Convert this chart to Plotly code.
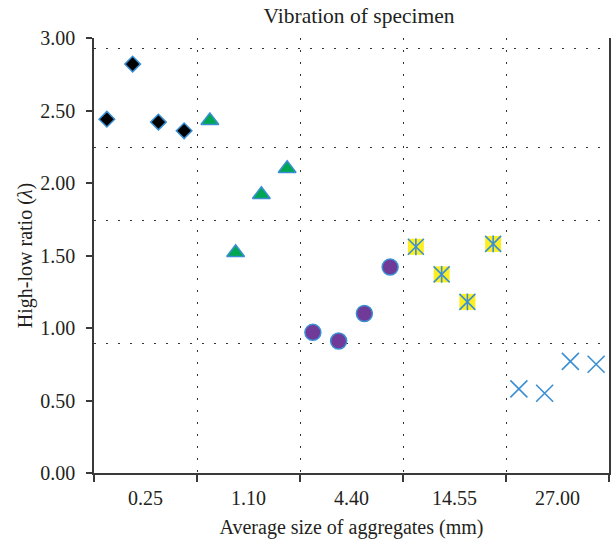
import plotly.graph_objects as go

# Aggregate size classes (mm) along the x axis
categories = ["0.25", "1.10", "4.40", "14.55", "27.00"]

# High-low ratio readings, four specimens per size class
ratio_025 = [2.44, 2.82, 2.42, 2.36]
ratio_110 = [2.43, 1.52, 1.92, 2.10]
ratio_440 = [0.97, 0.91, 1.10, 1.42]
ratio_1455 = [1.56, 1.37, 1.18, 1.58]
ratio_2700 = [0.58, 0.55, 0.77, 0.75]

y_ticks = [0.0, 0.5, 1.0, 1.5, 2.0, 2.5, 3.0]

BLUE = "#3a8fd4"
FONT = "Liberation Serif"
TXT = "#231f20"
AXIS = "#3a3a3a"
GRID_DASH = "1.5px,10.5px"
FS = 20

n_per = 4


def xpos(cat_index, values):
    # spread the specimens of one class evenly across its band
    return [cat_index * n_per + k + 0.5 for k in range(len(values))]


fig = go.Figure()

fig.add_trace(go.Scatter(
    x=xpos(0, ratio_025), y=ratio_025, mode="markers",
    marker=dict(symbol="diamond", size=12, color="black",
                line=dict(color=BLUE, width=1.5))))

fig.add_trace(go.Scatter(
    x=xpos(1, ratio_110), y=ratio_110, mode="markers",
    marker=dict(symbol="triangle-up", size=15.5, color="#00a651",
                line=dict(color=BLUE, width=1.5))))

fig.add_trace(go.Scatter(
    x=xpos(2, ratio_440), y=ratio_440, mode="markers",
    marker=dict(symbol="circle", size=16, color="#6f3a98",
                line=dict(color=BLUE, width=1.5))))

# yellow square with a star (x plus vertical stroke) on top
fig.add_trace(go.Scatter(
    x=xpos(3, ratio_1455), y=ratio_1455, mode="markers",
    marker=dict(symbol="square", size=16, color="#fcee21",
                line=dict(width=0))))
fig.add_trace(go.Scatter(
    x=xpos(3, ratio_1455), y=ratio_1455, mode="markers",
    marker=dict(symbol="x-thin", size=16,
                line=dict(color=BLUE, width=1.6))))
fig.add_trace(go.Scatter(
    x=xpos(3, ratio_1455), y=ratio_1455, mode="markers",
    marker=dict(symbol="line-ns", size=12,
                line=dict(color=BLUE, width=1.6))))

fig.add_trace(go.Scatter(
    x=xpos(4, ratio_2700), y=ratio_2700, mode="markers",
    marker=dict(symbol="x-thin", size=17,
                line=dict(color=BLUE, width=1.6))))

# class label positions (band centres) and band boundaries
n_cat = len(categories)
band_edges = [i * n_per for i in range(n_cat + 1)]
band_centres = [i * n_per + n_per / 2 for i in range(n_cat)]
x_range = [0, n_cat * n_per]

# dotted horizontal guide levels
guide_levels = [0.894, 1.741, 2.248, 2.931]

fig.update_layout(
    width=614, height=539,
    margin=dict(l=94, r=3, t=38, b=66),
    paper_bgcolor="white", plot_bgcolor="white",
    showlegend=False,
    font=dict(family=FONT, color=TXT, size=FS),
    title=dict(text="Vibration of specimen", x=359 / 614, xanchor="center",
               y=1 - 15 / 539, yanchor="middle",
               font=dict(family=FONT, size=21.5, color=TXT)),
    xaxis=dict(
        range=x_range, tickvals=band_edges, ticktext=[""] * len(band_edges),
        ticks="outside", ticklen=7, tickwidth=1.5, tickcolor=AXIS,
        showline=True, linecolor=AXIS, linewidth=1.5,
        showgrid=True, gridcolor="#333333", gridwidth=1.3, griddash=GRID_DASH,
        zeroline=False, fixedrange=True,
    ),
    xaxis2=dict(
        overlaying="x", anchor="y", side="bottom", matches="x",
        range=x_range, tickvals=band_centres, ticktext=categories,
        ticks="outside", ticklen=7, tickcolor="rgba(0,0,0,0)",
        showline=False, showgrid=False, zeroline=False,
        tickfont=dict(family=FONT, size=FS, color=TXT),
        title=dict(text="Average size of aggregates (mm)", standoff=11,
                   font=dict(family=FONT, size=FS, color=TXT)),
    ),
    yaxis=dict(
        range=[0, 3], tickvals=y_ticks, tickformat=".2f",
        ticks="outside", ticklen=6, tickwidth=1.5, tickcolor=AXIS,
        ticklabelstandoff=7,
        showline=True, linecolor=AXIS, linewidth=1.5, mirror=True,
        showgrid=False, zeroline=False,
        tickfont=dict(family=FONT, size=FS, color=TXT),
        title=dict(text="High-low ratio (<i>λ</i>)", standoff=2,
                   font=dict(family=FONT, size=FS, color=TXT)),
    ),
    yaxis2=dict(
        overlaying="y", anchor="x", side="right", range=[0, 3],
        tickvals=guide_levels, showticklabels=False, ticks="",
        showline=False, zeroline=False,
        showgrid=True, gridcolor="#333333", gridwidth=1.3, griddash=GRID_DASH,
    ),
)

# empty trace that activates the secondary label/guide axes
fig.add_trace(go.Scatter(x=[None], y=[None], xaxis="x2", yaxis="y2",
                         showlegend=False, hoverinfo="skip"))

fig.write_html("out.html")
